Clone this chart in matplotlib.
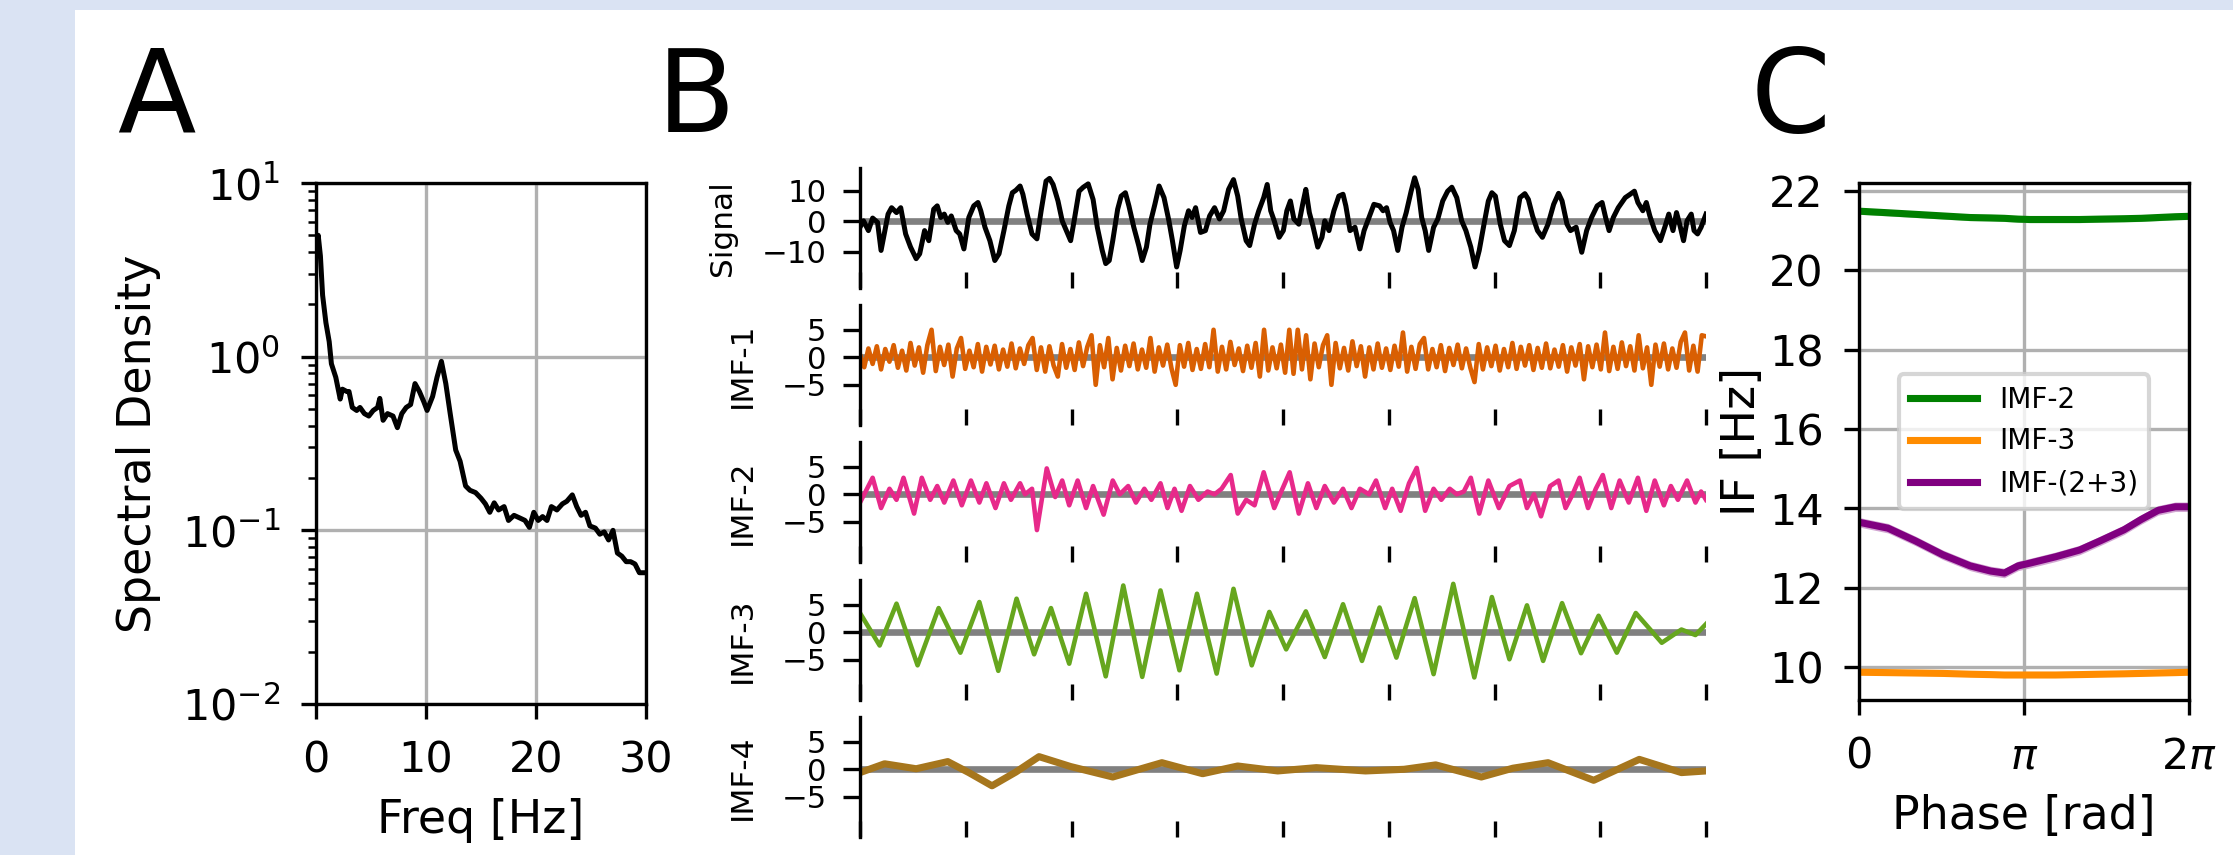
import numpy as np
import matplotlib
matplotlib.use("Agg")
import matplotlib.pyplot as plt
from matplotlib.patches import Rectangle

# ---------------- Panel A: power spectral density ----------------
psd_freq = [0.1, 0.2, 0.4, 0.6, 0.9, 1.2, 1.4, 1.8, 2.2, 2.4, 2.8, 3.0, 3.3, 3.7, 4.0, 4.4,
            4.8, 5.2, 5.6, 5.8, 6.1, 6.5, 7.0, 7.4, 7.8, 8.2, 8.6, 9.0, 9.4, 9.8, 10.1,
            10.6, 11.0, 11.4, 11.8, 12.2, 12.7, 13.1, 13.6, 14.0, 14.5, 15.0, 15.4, 15.8,
            16.2, 16.6, 17.1, 17.5, 18.0, 18.5, 19.0, 19.4, 19.8, 20.2, 20.6, 21.0, 21.4,
            21.9, 22.4, 22.8, 23.3, 23.7, 24.1, 24.5, 24.9, 25.4, 25.8, 26.2, 26.6, 27.0,
            27.4, 27.8, 28.2, 28.6, 29.0, 29.4, 29.8, 30.0]
psd_vals = [4.6, 5.0, 3.8, 2.26, 1.57, 1.22, 0.91, 0.76, 0.57, 0.65, 0.63, 0.63, 0.51, 0.49,
            0.51, 0.47, 0.455, 0.49, 0.51, 0.575, 0.43, 0.47, 0.455, 0.39, 0.47, 0.51, 0.53,
            0.70, 0.63, 0.55, 0.49, 0.59, 0.76, 0.94, 0.70, 0.47, 0.29, 0.25, 0.18, 0.17,
            0.165, 0.153, 0.142, 0.127, 0.144, 0.131, 0.137, 0.114, 0.122, 0.118, 0.114,
            0.104, 0.127, 0.114, 0.12, 0.114, 0.137, 0.131, 0.142, 0.147, 0.16, 0.137,
            0.122, 0.127, 0.106, 0.103, 0.095, 0.098, 0.088, 0.10, 0.074, 0.071, 0.066,
            0.066, 0.064, 0.057, 0.057, 0.057]

# ---------------- Panel B: signal and IMFs (sample index) ----------------
n_samples = 1205
signal_t = [0, 5, 12, 18, 25, 30, 40, 45, 52, 58, 65, 72, 80, 85, 92, 98, 105, 110, 115, 120,
            125, 130, 137, 142, 148, 155, 162, 168, 172, 178, 185, 192, 198, 205, 212, 217,
            222, 228, 232, 238, 245, 252, 258, 265, 270, 275, 282, 288, 295, 300, 305, 312,
            318, 325, 332, 338, 345, 350, 355, 360, 367, 372, 378, 383, 390, 397, 402, 408,
            413, 420, 426, 433, 440, 445, 451, 456, 462, 468, 473, 478, 485, 492, 498, 505,
            512, 518, 525, 532, 538, 543, 550, 555, 562, 568, 575, 580, 585, 590, 597, 603,
            608, 613, 618, 625, 631, 635, 640, 645, 652, 658, 662, 668, 675, 682, 688, 692,
            698, 705, 712, 718, 725, 732, 740, 745, 750, 755, 760, 766, 772, 778, 785, 790,
            795, 800, 805, 810, 817, 823, 830, 837, 843, 850, 857, 863, 870, 876, 882, 888,
            895, 900, 905, 912, 918, 925, 932, 940, 947, 952, 958, 965, 972, 980, 988, 995,
            1000, 1007, 1012, 1020, 1028, 1035, 1042, 1050, 1057, 1062, 1067, 1073, 1080,
            1090, 1097, 1103, 1108, 1115, 1120, 1125, 1132, 1140, 1147, 1152, 1158, 1163,
            1168, 1173, 1178, 1184, 1188, 1193, 1198, 1205]
signal_v = [-1.9, 0.2, -3.0, 1.1, -0.3, -9.5, 2.4, 4.5, 2.9, 4.5, -4.1, -8.4, -12.2, -10.6,
            -3.0, -6.3, 4.0, 5.1, 1.3, 2.4, -0.3, 1.8, -3.0, -4.1, -9.0, 1.3, 5.1, 6.2, 3.5,
            -1.9, -6.3, -12.8, -10.6, -3.0, 5.1, 9.4, 10.2, 11.6, 8.9, 2.4, -4.1, -5.7, 3.5,
            13.2, 14.1, 12.1, 6.7, 0.2, -3.6, -6.3, 0.2, 9.9, 11.2, 12.3, 7.2, -1.9, -9.5,
            -13.8, -12.8, -6.3, 4.0, 8.3, 9.4, 5.1, -1.9, -7.9, -12.8, -8.4, -0.9, 5.6, 11.6,
            7.8, 0.2, -6.3, -14.9, -9.5, -1.4, 3.5, 1.3, 4.5, -3.6, -3.0, 1.8, 4.5, 0.8, 3.5,
            10.5, 13.7, 8.3, 0.8, -6.3, -7.9, -0.9, 3.5, 7.8, 12.1, 3.5, 0.2, -5.2, -3.0, 3.5,
            6.7, 0.8, -0.9, 6.2, 10.5, 2.9, -1.4, -8.4, -5.2, 0.2, -3.0, 3.5, 8.3, 8.9, 5.1,
            -3.0, -1.9, -9.0, -3.0, 1.3, 5.6, 5.1, 3.5, 4.5, -0.3, -3.0, -9.5, -1.9, 2.9, 9.9,
            14.3, 10.5, 1.3, -3.0, -9.5, -1.9, 0.8, 6.7, 9.9, 11.2, 7.8, 0.2, -3.0, -8.4,
            -14.9, -9.5, -1.9, 6.7, 9.4, 8.3, -0.9, -6.3, -7.9, -3.0, 7.8, 9.1, 7.2, 1.8,
            -3.0, -5.2, -0.9, 5.6, 9.2, 6.7, -0.9, -3.0, -1.9, -10.1, -3.0, 1.3, 5.1, 6.2,
            1.3, -3.0, 1.3, 4.5, 7.8, 8.9, 9.9, 6.2, 3.5, 6.2, 1.8, -3.0, -6.3, -1.4, 2.4,
            -3.0, 2.9, -1.4, -6.3, 0.2, 2.4, -3.0, -4.1, -1.9, 2.4]

imf1_v = [0.5, -1.8, 1.6, -1.2, 2.0, -2.2, 1.5, -0.8, 2.2, -1.9, 1.2, -2.4, 2.6, -1.5, 1.8,
          -2.8, 2.2, 5.0, -2.5, 1.9,
          -1.4, 2.3, -3.5, 1.6, 3.5, -2.1, 1.2, -1.8, 2.4, -2.6, 1.9, -1.3, 2.1, -2.2, 1.4,
          -1.7, 2.5, -2.0, 1.6, -1.2,
          2.2, 3.5, -2.3, 1.8, -2.6, 2.0, -1.5, -3.5, 2.4, -1.9, 1.5, -2.3, 2.7, -1.6, 1.9,
          4.0, -5.0, 2.2, -1.8, 3.5,
          -4.0, 1.7, -2.4, 2.1, -1.6, 2.5, -2.2, 1.4, -1.9, 3.5, -2.6, 1.8, -1.5, 2.3, -2.0,
          -5.0, 2.2, -1.7, 2.6, -2.3,
          1.5, -2.1, 2.4, -1.8, 5.0, -2.6, 1.9, -2.2, 2.8, -1.4, 1.6, -2.5, 2.1, -1.9, 2.6,
          -3.5, 5.0, -2.4, 1.8, -2.0,
          2.3, -2.8, 5.0, -3.0, 5.0, -2.2, 4.0, -4.0, 2.5, -1.8, 2.2, 4.0, -5.0, 2.6, -2.0,
          1.7, -2.4, 2.9, -1.6, 2.0,
          -3.5, 1.8, -2.2, 2.5, -1.9, 1.6, -2.3, 2.1, -1.7, 4.5, -2.6, 1.9, -2.1, 2.4, 3.5,
          -2.2, 1.5, -1.8, 2.2, -2.5,
          1.7, -1.4, 2.3, -2.0, 1.6, -1.9, -4.5, 2.4, -2.2, 1.8, -1.6, 2.1, -2.4, 1.5, -1.8,
          2.6, -2.1, 1.9, -1.5, 2.2,
          -2.3, 1.7, -1.9, 2.5, -2.0, 1.4, -1.7, 2.2, -2.6, 1.8, -1.5, 2.4, -4.0, 2.0, -1.8,
          2.3, -2.2, 4.5, -2.5, 1.9,
          -2.1, 2.7, -1.6, 2.0, -2.4, 4.0, -2.0, 1.8, -5.0, 2.3, -1.7, 2.5, -2.2, 1.6, -1.9,
          2.8, 4.5, -2.4, 2.1, -2.6,
          4.0, 3.8]

imf2_t = [0, 18, 30, 42, 52, 62, 77, 88, 100, 110, 120, 133, 145, 158, 170, 180, 193, 205,
          215, 228, 235, 245, 252, 266, 278, 288, 298, 310, 322, 332, 347, 360, 370, 382,
          393, 405, 415, 428, 438, 448, 458, 470, 482, 495, 505, 515, 528, 538, 550, 562,
          575, 590, 600, 612, 625, 638, 650, 662, 675, 688, 700, 712, 725, 735, 748, 758,
          770, 782, 793, 805, 817, 828, 840, 850, 860, 870, 882, 895, 910, 925, 940, 950,
          960, 970, 983, 995, 1005, 1015, 1025, 1037, 1048, 1058, 1070, 1082, 1095, 1108,
          1120, 1132, 1145, 1155, 1165, 1178, 1190, 1198, 1205]
imf2_v = [-1.5, 3.0, -2.5, 1.0, -1.0, 3.0, -3.5, 3.0, -1.0, 1.5, -1.5, 2.5, -2.0, 2.5, -1.5,
          2.0, -2.5, 2.0, -1.0, 2.0, 0.0, 1.0, -6.5, 4.7, -0.5, 2.5, -2.0, 2.5, -2.5, 1.5,
          -3.7, 2.5, 0.0, 1.5, -1.5, 1.0, -1.0, 2.0, -2.5, 1.0, -3.0, 1.5, -1.0, 0.5, 0.0,
          1.0, 3.5, -3.5, -1.0, -2.0, 4.0, -2.5, 0.5, 4.0, -3.5, 2.0, -2.5, 1.5, -1.5, 1.0,
          -2.5, 1.0, 0.0, 2.5, -2.5, 1.0, -3.0, 2.0, 4.8, -3.0, 1.0, -1.0, 1.0, 0.0, 0.5,
          3.0, -3.5, 2.5, -2.5, 1.5, 2.5, -2.5, 0.0, -4.0, 1.5, 2.5, -2.5, 0.0, 3.0, -2.5,
          1.0, 3.5, -2.5, 2.5, -1.5, 3.0, -3.0, 2.5, -2.0, 1.5, -1.0, 2.5, -1.5, 0.5, -1.0]

imf3_t = [0, 28, 52, 82, 112, 143, 170, 197, 223, 248, 272, 298, 322, 350, 375, 402, 428,
          455, 480, 508, 532, 558, 583, 607, 635, 662, 688, 715, 740, 764, 790, 817, 845,
          875, 900, 925, 950, 973, 1000, 1027, 1052, 1078, 1105, 1142, 1170, 1190, 1205]
imf3_v = [3.5, -2.4, 5.2, -6.0, 4.4, -3.7, 5.5, -7.0, 6.1, -4.0, 4.4, -5.7, 7.0, -8.0, 8.5,
          -8.1, 7.6, -6.9, 7.0, -7.5, 7.9, -6.0, 3.7, -3.1, 3.8, -4.5, 5.1, -5.2, 4.5, -4.6,
          6.2, -7.6, 8.8, -8.2, 6.4, -4.9, 4.9, -5.2, 5.3, -3.8, 3.0, -3.7, 3.5, -1.9, 0.5,
          -0.5, 1.5]

imf4_t = [0, 35, 80, 125, 155, 188, 222, 255, 300, 360, 430, 488, 538, 595, 650, 720, 775,
          820, 885, 930, 980, 1045, 1110, 1170, 1205]
imf4_v = [-0.6, 1.0, 0.1, 1.4, -0.6, -3.0, -0.5, 2.3, 0.5, -1.4, 1.2, -0.8, 0.6, -0.3, 0.3,
          -0.3, 0.0, 0.8, -1.4, 0.2, 1.2, -2.0, 1.8, -0.6, -0.3]

trace_names = ["Signal", "IMF-1", "IMF-2", "IMF-3", "IMF-4"]
trace_colors = ["#000000", "#d95f02", "#e7298a", "#66a61e", "#a6761d"]

# ---------------- Panel C: instantaneous frequency vs phase ----------------
phase_pi = [0, 0.176, 0.342, 0.508, 0.674, 0.798, 0.881, 0.964, 1.036, 1.192, 1.337, 1.461,
            1.606, 1.71, 1.813, 1.917, 2.0]
if_imf2 = [21.49, 21.45, 21.41, 21.37, 21.33, 21.32, 21.31, 21.29, 21.28, 21.28, 21.28,
           21.29, 21.30, 21.31, 21.33, 21.35, 21.36]
if_imf3 = [9.87, 9.86, 9.85, 9.84, 9.82, 9.81, 9.80, 9.80, 9.80, 9.80, 9.81, 9.82, 9.83,
           9.84, 9.85, 9.86, 9.87]
if_imf23 = [13.65, 13.50, 13.18, 12.83, 12.55, 12.42, 12.37, 12.55, 12.62, 12.78, 12.95,
            13.18, 13.46, 13.72, 13.95, 14.04, 14.04]
if_imf2_err = [0.08] * 17
if_imf3_err = [0.06] * 17
if_imf23_err = [0.12] * 17
c_labels = ["IMF-2", "IMF-3", "IMF-(2+3)"]
c_colors = ["green", "darkorange", "purple"]

# ---------------- Figure ----------------
W, H = 2233, 855
DPI = 300
fig = plt.figure(figsize=(W / DPI, H / DPI), dpi=DPI, facecolor="white")

bg = "#dae3f3"
fig.patches.append(Rectangle((0, 0), 75 / W, 1, transform=fig.transFigure,
                             facecolor=bg, edgecolor="none", zorder=-10))
fig.patches.append(Rectangle((0, 1 - 10 / H), 1, 10 / H, transform=fig.transFigure,
                             facecolor=bg, edgecolor="none", zorder=-10))


def frac(x0, y0, x1, y1):
    return [x0 / W, 1 - y1 / H, (x1 - x0) / W, (y1 - y0) / H]


big_fs = 27.5
tick_fs = 10.3
lab_fs = 11

# Panel A
axA = fig.add_axes(frac(316, 183, 646, 704))
axA.semilogy(psd_freq, psd_vals, color="k", lw=1.2)
axA.set_xlim(0, 30)
axA.set_ylim(1e-2, 1e1)
axA.set_xticks([0, 10, 20, 30])
axA.grid(True, which="major", color="#b0b0b0", lw=0.8)
axA.tick_params(labelsize=tick_fs, pad=5)
axA.set_xlabel("Freq [Hz]", fontsize=lab_fs)
axA.set_ylabel("Spectral Density", fontsize=lab_fs, labelpad=5)

# Panel B
tops = [168, 305, 442, 580, 717]
traces = [(signal_t, signal_v),
          (list(np.linspace(0, n_samples, len(imf1_v))), imf1_v),
          (imf2_t, imf2_v), (imf3_t, imf3_v), (imf4_t, imf4_v)]
widths = [1.2, 1.1, 1.1, 1.1, 1.7]
for i, (name, col, (tt, vv)) in enumerate(zip(trace_names, trace_colors, traces)):
    ax = fig.add_axes(frac(860, tops[i], 1706, tops[i] + 120))
    ax.axhline(0, color="#808080", lw=1.6, zorder=1)
    ax.plot(tt, vv, color=col, lw=widths[i], zorder=2)
    ax.set_xlim(0, n_samples)
    if i == 0:
        ax.set_ylim(-21.8, 17.5)
        ax.set_yticks([-10, 0, 10])
    else:
        ax.set_ylim(-12.3, 9.5)
        ax.set_yticks([-5, 0, 5])
    ax.set_xticks(np.linspace(0, n_samples, 9))
    ax.set_xticklabels([])
    for s in ["top", "right", "bottom"]:
        ax.spines[s].set_visible(False)
    ax.tick_params(axis="x", direction="in", length=3.8, width=0.8)
    ax.tick_params(axis="y", labelsize=7.4, pad=4, length=4)
    ax.set_ylabel(name, fontsize=7.5, labelpad=6)

# Panel C
axC = fig.add_axes(frac(1859, 183, 2189, 700))
ph = np.array(phase_pi) * np.pi
for vals, err, lab, col in zip([if_imf2, if_imf3, if_imf23],
                               [if_imf2_err, if_imf3_err, if_imf23_err],
                               c_labels, c_colors):
    v = np.array(vals)
    e = np.array(err)
    axC.fill_between(ph, v - e, v + e, color=col, alpha=0.35, lw=0)
    axC.plot(ph, v, color=col, lw=1.7, label=lab)
axC.set_xlim(0, 2 * np.pi)
axC.set_ylim(9.17, 22.2)
axC.set_yticks([10, 12, 14, 16, 18, 20, 22])
axC.set_xticks([0, np.pi, 2 * np.pi])
axC.set_xticklabels(["0", r"$\pi$", r"$2\pi$"])
axC.grid(True, color="#b0b0b0", lw=0.8)
axC.tick_params(labelsize=tick_fs, pad=5)
axC.set_xlabel("Phase [rad]", fontsize=lab_fs)
axC.set_ylabel("IF [Hz]", fontsize=lab_fs, labelpad=1)
axC.legend(loc="center", fontsize=6.7, handlelength=2.4)

# Panel letters
fig.text(117 / W, 1 - 132 / H, "A", fontsize=big_fs, ha="left", va="baseline")
fig.text(657 / W, 1 - 132 / H, "B", fontsize=big_fs, ha="left", va="baseline")
fig.text(1751 / W, 1 - 132 / H, "C", fontsize=big_fs, ha="left", va="baseline")

fig.savefig("out.png", dpi=DPI, facecolor="white")
